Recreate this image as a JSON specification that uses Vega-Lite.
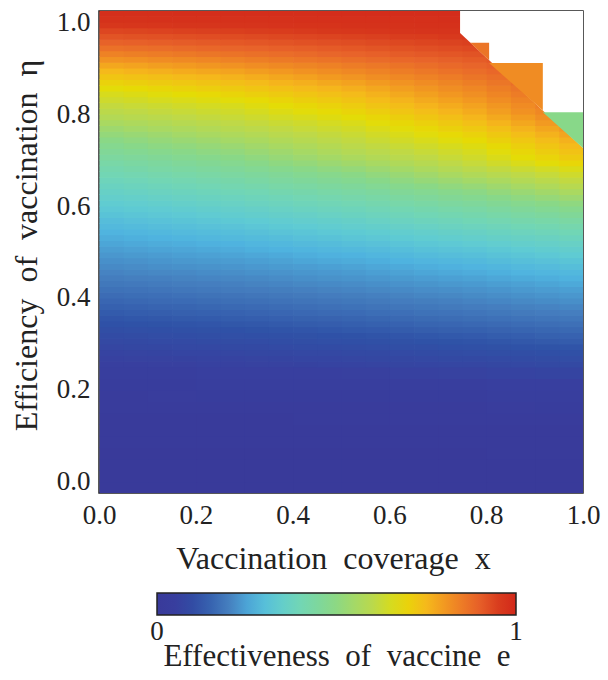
{
"$schema":"https://vega.github.io/schema/vega-lite/v6.json",
"width":484,"height":482,
"autosize":{"type":"none"},
"padding":{"left":99,"top":11,"right":25,"bottom":187},
"background":"white",
"config":{
 "view":{"stroke":"#222","strokeWidth":1.5},
 "font":"Liberation Serif",
 "axis":{"ticks":false,"tickSize":0,"domain":false,"grid":false,"labelFont":"Liberation Serif","labelFontSize":27,"labelColor":"#222","titleFont":"Liberation Serif","titleFontSize":32,"titleFontWeight":"normal","titleColor":"#222","labelOverlap":false}
},
"datasets":{
"coarse":[
{"x":0,"y":-0.025,"e":0},{"x":0.1,"y":-0.025,"e":0},{"x":0.2,"y":-0.025,"e":0},{"x":0.3,"y":-0.025,"e":0},{"x":0.4,"y":-0.025,"e":0},{"x":0.5,"y":-0.025,"e":0},{"x":0.6,"y":-0.025,"e":0},{"x":0.7,"y":-0.025,"e":0},{"x":0.8,"y":-0.025,"e":0},{"x":0.9,"y":-0.025,"e":0},
{"x":0,"y":0,"e":0.001},{"x":0.1,"y":0,"e":0.001},{"x":0.2,"y":0,"e":0.001},{"x":0.3,"y":0,"e":0.001},{"x":0.4,"y":0,"e":0.001},{"x":0.5,"y":0,"e":0.001},{"x":0.6,"y":0,"e":0.001},{"x":0.7,"y":0,"e":0.001},{"x":0.8,"y":0,"e":0.001},{"x":0.9,"y":0,"e":0.001},
{"x":0,"y":0.025,"e":0.002},{"x":0.1,"y":0.025,"e":0.002},{"x":0.2,"y":0.025,"e":0.002},{"x":0.3,"y":0.025,"e":0.002},{"x":0.4,"y":0.025,"e":0.002},{"x":0.5,"y":0.025,"e":0.002},{"x":0.6,"y":0.025,"e":0.002},{"x":0.7,"y":0.025,"e":0.002},{"x":0.8,"y":0.025,"e":0.002},{"x":0.9,"y":0.025,"e":0.002},
{"x":0,"y":0.05,"e":0.004},{"x":0.1,"y":0.05,"e":0.004},{"x":0.2,"y":0.05,"e":0.004},{"x":0.3,"y":0.05,"e":0.005},{"x":0.4,"y":0.05,"e":0.005},{"x":0.5,"y":0.05,"e":0.005},{"x":0.6,"y":0.05,"e":0.005},{"x":0.7,"y":0.05,"e":0.005},{"x":0.8,"y":0.05,"e":0.006},{"x":0.9,"y":0.05,"e":0.006},
{"x":0,"y":0.075,"e":0.007},{"x":0.1,"y":0.075,"e":0.007},{"x":0.2,"y":0.075,"e":0.008},{"x":0.3,"y":0.075,"e":0.008},{"x":0.4,"y":0.075,"e":0.008},{"x":0.5,"y":0.075,"e":0.008},{"x":0.6,"y":0.075,"e":0.009},{"x":0.7,"y":0.075,"e":0.009},{"x":0.8,"y":0.075,"e":0.009},{"x":0.9,"y":0.075,"e":0.01},
{"x":0,"y":0.1,"e":0.011},{"x":0.1,"y":0.1,"e":0.012},{"x":0.2,"y":0.1,"e":0.012},{"x":0.3,"y":0.1,"e":0.013},{"x":0.4,"y":0.1,"e":0.013},{"x":0.5,"y":0.1,"e":0.014},{"x":0.6,"y":0.1,"e":0.014},{"x":0.7,"y":0.1,"e":0.015},{"x":0.8,"y":0.1,"e":0.015},{"x":0.9,"y":0.1,"e":0.016},
{"x":0,"y":0.125,"e":0.016},{"x":0.1,"y":0.125,"e":0.016},{"x":0.2,"y":0.125,"e":0.017},{"x":0.3,"y":0.125,"e":0.017},{"x":0.4,"y":0.125,"e":0.018},{"x":0.5,"y":0.125,"e":0.019},{"x":0.6,"y":0.125,"e":0.02},{"x":0.7,"y":0.125,"e":0.021},{"x":0.8,"y":0.125,"e":0.022},{"x":0.9,"y":0.125,"e":0.023},
{"x":0,"y":0.15,"e":0.022},{"x":0.1,"y":0.15,"e":0.023},{"x":0.2,"y":0.15,"e":0.024},{"x":0.3,"y":0.15,"e":0.025},{"x":0.4,"y":0.15,"e":0.026},{"x":0.5,"y":0.15,"e":0.027},{"x":0.6,"y":0.15,"e":0.028},{"x":0.7,"y":0.15,"e":0.029},{"x":0.8,"y":0.15,"e":0.03},{"x":0.9,"y":0.15,"e":0.031},
{"x":0,"y":0.175,"e":0.029},{"x":0.1,"y":0.175,"e":0.03},{"x":0.2,"y":0.175,"e":0.031},{"x":0.3,"y":0.175,"e":0.032},{"x":0.4,"y":0.175,"e":0.034},{"x":0.5,"y":0.175,"e":0.036},{"x":0.6,"y":0.175,"e":0.038},{"x":0.7,"y":0.175,"e":0.04},{"x":0.8,"y":0.175,"e":0.042},{"x":0.9,"y":0.175,"e":0.045},
{"x":0,"y":0.2,"e":0.039},{"x":0.1,"y":0.2,"e":0.04},{"x":0.2,"y":0.2,"e":0.042},{"x":0.3,"y":0.2,"e":0.044},{"x":0.4,"y":0.2,"e":0.046},{"x":0.5,"y":0.2,"e":0.048},{"x":0.6,"y":0.2,"e":0.051},{"x":0.7,"y":0.2,"e":0.053},{"x":0.8,"y":0.2,"e":0.056},{"x":0.9,"y":0.2,"e":0.059},
{"x":0,"y":0.225,"e":0.05},{"x":0.1,"y":0.225,"e":0.052},{"x":0.2,"y":0.225,"e":0.054},{"x":0.3,"y":0.225,"e":0.057},{"x":0.4,"y":0.225,"e":0.06},{"x":0.5,"y":0.225,"e":0.063},{"x":0.6,"y":0.225,"e":0.066},{"x":0.7,"y":0.225,"e":0.07},{"x":0.8,"y":0.225,"e":0.073},{"x":0.9,"y":0.225,"e":0.077}
],
"fine":[
{"x":0,"y":0.25,"e":0.059},{"x":0.05,"y":0.25,"e":0.06},{"x":0.1,"y":0.25,"e":0.062},{"x":0.15,"y":0.25,"e":0.063},{"x":0.2,"y":0.25,"e":0.065},{"x":0.25,"y":0.25,"e":0.066},{"x":0.3,"y":0.25,"e":0.068},{"x":0.35,"y":0.25,"e":0.069},{"x":0.4,"y":0.25,"e":0.071},{"x":0.45,"y":0.25,"e":0.072},{"x":0.5,"y":0.25,"e":0.074},{"x":0.55,"y":0.25,"e":0.076},{"x":0.6,"y":0.25,"e":0.078},{"x":0.65,"y":0.25,"e":0.079},{"x":0.7,"y":0.25,"e":0.081},{"x":0.75,"y":0.25,"e":0.083},{"x":0.8,"y":0.25,"e":0.086},{"x":0.85,"y":0.25,"e":0.088},{"x":0.9,"y":0.25,"e":0.091},{"x":0.95,"y":0.25,"e":0.093},
{"x":0,"y":0.2625,"e":0.067},{"x":0.05,"y":0.2625,"e":0.068},{"x":0.1,"y":0.2625,"e":0.07},{"x":0.15,"y":0.2625,"e":0.071},{"x":0.2,"y":0.2625,"e":0.073},{"x":0.25,"y":0.2625,"e":0.074},{"x":0.3,"y":0.2625,"e":0.076},{"x":0.35,"y":0.2625,"e":0.077},{"x":0.4,"y":0.2625,"e":0.079},{"x":0.45,"y":0.2625,"e":0.08},{"x":0.5,"y":0.2625,"e":0.082},{"x":0.55,"y":0.2625,"e":0.084},{"x":0.6,"y":0.2625,"e":0.086},{"x":0.65,"y":0.2625,"e":0.089},{"x":0.7,"y":0.2625,"e":0.091},{"x":0.75,"y":0.2625,"e":0.093},{"x":0.8,"y":0.2625,"e":0.096},{"x":0.85,"y":0.2625,"e":0.098},{"x":0.9,"y":0.2625,"e":0.101},{"x":0.95,"y":0.2625,"e":0.103},
{"x":0,"y":0.275,"e":0.074},{"x":0.05,"y":0.275,"e":0.076},{"x":0.1,"y":0.275,"e":0.077},{"x":0.15,"y":0.275,"e":0.079},{"x":0.2,"y":0.275,"e":0.08},{"x":0.25,"y":0.275,"e":0.082},{"x":0.3,"y":0.275,"e":0.084},{"x":0.35,"y":0.275,"e":0.086},{"x":0.4,"y":0.275,"e":0.087},{"x":0.45,"y":0.275,"e":0.089},{"x":0.5,"y":0.275,"e":0.091},{"x":0.55,"y":0.275,"e":0.093},{"x":0.6,"y":0.275,"e":0.096},{"x":0.65,"y":0.275,"e":0.098},{"x":0.7,"y":0.275,"e":0.101},{"x":0.75,"y":0.275,"e":0.103},{"x":0.8,"y":0.275,"e":0.106},{"x":0.85,"y":0.275,"e":0.108},{"x":0.9,"y":0.275,"e":0.111},{"x":0.95,"y":0.275,"e":0.113},
{"x":0,"y":0.2875,"e":0.082},{"x":0.05,"y":0.2875,"e":0.084},{"x":0.1,"y":0.2875,"e":0.085},{"x":0.15,"y":0.2875,"e":0.087},{"x":0.2,"y":0.2875,"e":0.089},{"x":0.25,"y":0.2875,"e":0.091},{"x":0.3,"y":0.2875,"e":0.093},{"x":0.35,"y":0.2875,"e":0.095},{"x":0.4,"y":0.2875,"e":0.097},{"x":0.45,"y":0.2875,"e":0.099},{"x":0.5,"y":0.2875,"e":0.101},{"x":0.55,"y":0.2875,"e":0.103},{"x":0.6,"y":0.2875,"e":0.106},{"x":0.65,"y":0.2875,"e":0.108},{"x":0.7,"y":0.2875,"e":0.111},{"x":0.75,"y":0.2875,"e":0.113},{"x":0.8,"y":0.2875,"e":0.116},{"x":0.85,"y":0.2875,"e":0.119},{"x":0.9,"y":0.2875,"e":0.121},{"x":0.95,"y":0.2875,"e":0.124},
{"x":0,"y":0.3,"e":0.09},{"x":0.05,"y":0.3,"e":0.092},{"x":0.1,"y":0.3,"e":0.094},{"x":0.15,"y":0.3,"e":0.096},{"x":0.2,"y":0.3,"e":0.098},{"x":0.25,"y":0.3,"e":0.1},{"x":0.3,"y":0.3,"e":0.102},{"x":0.35,"y":0.3,"e":0.104},{"x":0.4,"y":0.3,"e":0.107},{"x":0.45,"y":0.3,"e":0.109},{"x":0.5,"y":0.3,"e":0.111},{"x":0.55,"y":0.3,"e":0.114},{"x":0.6,"y":0.3,"e":0.116},{"x":0.65,"y":0.3,"e":0.119},{"x":0.7,"y":0.3,"e":0.121},{"x":0.75,"y":0.3,"e":0.124},{"x":0.8,"y":0.3,"e":0.127},{"x":0.85,"y":0.3,"e":0.13},{"x":0.9,"y":0.3,"e":0.134},{"x":0.95,"y":0.3,"e":0.137},
{"x":0,"y":0.3125,"e":0.099},{"x":0.05,"y":0.3125,"e":0.101},{"x":0.1,"y":0.3125,"e":0.103},{"x":0.15,"y":0.3125,"e":0.105},{"x":0.2,"y":0.3125,"e":0.107},{"x":0.25,"y":0.3125,"e":0.109},{"x":0.3,"y":0.3125,"e":0.111},{"x":0.35,"y":0.3125,"e":0.113},{"x":0.4,"y":0.3125,"e":0.116},{"x":0.45,"y":0.3125,"e":0.118},{"x":0.5,"y":0.3125,"e":0.12},{"x":0.55,"y":0.3125,"e":0.123},{"x":0.6,"y":0.3125,"e":0.126},{"x":0.65,"y":0.3125,"e":0.129},{"x":0.7,"y":0.3125,"e":0.132},{"x":0.75,"y":0.3125,"e":0.135},{"x":0.8,"y":0.3125,"e":0.139},{"x":0.85,"y":0.3125,"e":0.142},{"x":0.9,"y":0.3125,"e":0.146},{"x":0.95,"y":0.3125,"e":0.149},
{"x":0,"y":0.325,"e":0.108},{"x":0.05,"y":0.325,"e":0.11},{"x":0.1,"y":0.325,"e":0.112},{"x":0.15,"y":0.325,"e":0.114},{"x":0.2,"y":0.325,"e":0.116},{"x":0.25,"y":0.325,"e":0.118},{"x":0.3,"y":0.325,"e":0.121},{"x":0.35,"y":0.325,"e":0.124},{"x":0.4,"y":0.325,"e":0.126},{"x":0.45,"y":0.325,"e":0.129},{"x":0.5,"y":0.325,"e":0.132},{"x":0.55,"y":0.325,"e":0.135},{"x":0.6,"y":0.325,"e":0.138},{"x":0.65,"y":0.325,"e":0.141},{"x":0.7,"y":0.325,"e":0.144},{"x":0.75,"y":0.325,"e":0.147},{"x":0.8,"y":0.325,"e":0.151},{"x":0.85,"y":0.325,"e":0.154},{"x":0.9,"y":0.325,"e":0.158},{"x":0.95,"y":0.325,"e":0.161},
{"x":0,"y":0.3375,"e":0.117},{"x":0.05,"y":0.3375,"e":0.119},{"x":0.1,"y":0.3375,"e":0.121},{"x":0.15,"y":0.3375,"e":0.124},{"x":0.2,"y":0.3375,"e":0.126},{"x":0.25,"y":0.3375,"e":0.128},{"x":0.3,"y":0.3375,"e":0.131},{"x":0.35,"y":0.3375,"e":0.134},{"x":0.4,"y":0.3375,"e":0.137},{"x":0.45,"y":0.3375,"e":0.14},{"x":0.5,"y":0.3375,"e":0.143},{"x":0.55,"y":0.3375,"e":0.146},{"x":0.6,"y":0.3375,"e":0.149},{"x":0.65,"y":0.3375,"e":0.153},{"x":0.7,"y":0.3375,"e":0.156},{"x":0.75,"y":0.3375,"e":0.159},{"x":0.8,"y":0.3375,"e":0.163},{"x":0.85,"y":0.3375,"e":0.167},{"x":0.9,"y":0.3375,"e":0.17},{"x":0.95,"y":0.3375,"e":0.174},
{"x":0,"y":0.35,"e":0.126},{"x":0.05,"y":0.35,"e":0.129},{"x":0.1,"y":0.35,"e":0.131},{"x":0.15,"y":0.35,"e":0.134},{"x":0.2,"y":0.35,"e":0.136},{"x":0.25,"y":0.35,"e":0.139},{"x":0.3,"y":0.35,"e":0.142},{"x":0.35,"y":0.35,"e":0.145},{"x":0.4,"y":0.35,"e":0.148},{"x":0.45,"y":0.35,"e":0.151},{"x":0.5,"y":0.35,"e":0.154},{"x":0.55,"y":0.35,"e":0.157},{"x":0.6,"y":0.35,"e":0.161},{"x":0.65,"y":0.35,"e":0.164},{"x":0.7,"y":0.35,"e":0.168},{"x":0.75,"y":0.35,"e":0.171},{"x":0.8,"y":0.35,"e":0.175},{"x":0.85,"y":0.35,"e":0.179},{"x":0.9,"y":0.35,"e":0.182},{"x":0.95,"y":0.35,"e":0.186},
{"x":0,"y":0.3625,"e":0.136},{"x":0.05,"y":0.3625,"e":0.139},{"x":0.1,"y":0.3625,"e":0.141},{"x":0.15,"y":0.3625,"e":0.144},{"x":0.2,"y":0.3625,"e":0.146},{"x":0.25,"y":0.3625,"e":0.149},{"x":0.3,"y":0.3625,"e":0.152},{"x":0.35,"y":0.3625,"e":0.155},{"x":0.4,"y":0.3625,"e":0.159},{"x":0.45,"y":0.3625,"e":0.162},{"x":0.5,"y":0.3625,"e":0.165},{"x":0.55,"y":0.3625,"e":0.169},{"x":0.6,"y":0.3625,"e":0.172},{"x":0.65,"y":0.3625,"e":0.176},{"x":0.7,"y":0.3625,"e":0.179},{"x":0.75,"y":0.3625,"e":0.183},{"x":0.8,"y":0.3625,"e":0.187},{"x":0.85,"y":0.3625,"e":0.191},{"x":0.9,"y":0.3625,"e":0.195},{"x":0.95,"y":0.3625,"e":0.199},
{"x":0,"y":0.375,"e":0.146},{"x":0.05,"y":0.375,"e":0.149},{"x":0.1,"y":0.375,"e":0.152},{"x":0.15,"y":0.375,"e":0.154},{"x":0.2,"y":0.375,"e":0.157},{"x":0.25,"y":0.375,"e":0.16},{"x":0.3,"y":0.375,"e":0.163},{"x":0.35,"y":0.375,"e":0.166},{"x":0.4,"y":0.375,"e":0.17},{"x":0.45,"y":0.375,"e":0.173},{"x":0.5,"y":0.375,"e":0.176},{"x":0.55,"y":0.375,"e":0.18},{"x":0.6,"y":0.375,"e":0.184},{"x":0.65,"y":0.375,"e":0.187},{"x":0.7,"y":0.375,"e":0.191},{"x":0.75,"y":0.375,"e":0.195},{"x":0.8,"y":0.375,"e":0.199},{"x":0.85,"y":0.375,"e":0.203},{"x":0.9,"y":0.375,"e":0.206},{"x":0.95,"y":0.375,"e":0.21},
{"x":0,"y":0.3875,"e":0.156},{"x":0.05,"y":0.3875,"e":0.159},{"x":0.1,"y":0.3875,"e":0.162},{"x":0.15,"y":0.3875,"e":0.165},{"x":0.2,"y":0.3875,"e":0.168},{"x":0.25,"y":0.3875,"e":0.171},{"x":0.3,"y":0.3875,"e":0.174},{"x":0.35,"y":0.3875,"e":0.177},{"x":0.4,"y":0.3875,"e":0.181},{"x":0.45,"y":0.3875,"e":0.184},{"x":0.5,"y":0.3875,"e":0.187},{"x":0.55,"y":0.3875,"e":0.191},{"x":0.6,"y":0.3875,"e":0.195},{"x":0.65,"y":0.3875,"e":0.198},{"x":0.7,"y":0.3875,"e":0.202},{"x":0.75,"y":0.3875,"e":0.206},{"x":0.8,"y":0.3875,"e":0.21},{"x":0.85,"y":0.3875,"e":0.214},{"x":0.9,"y":0.3875,"e":0.217},{"x":0.95,"y":0.3875,"e":0.221},
{"x":0,"y":0.4,"e":0.166},{"x":0.05,"y":0.4,"e":0.169},{"x":0.1,"y":0.4,"e":0.172},{"x":0.15,"y":0.4,"e":0.175},{"x":0.2,"y":0.4,"e":0.178},{"x":0.25,"y":0.4,"e":0.181},{"x":0.3,"y":0.4,"e":0.184},{"x":0.35,"y":0.4,"e":0.188},{"x":0.4,"y":0.4,"e":0.191},{"x":0.45,"y":0.4,"e":0.195},{"x":0.5,"y":0.4,"e":0.198},{"x":0.55,"y":0.4,"e":0.202},{"x":0.6,"y":0.4,"e":0.205},{"x":0.65,"y":0.4,"e":0.209},{"x":0.7,"y":0.4,"e":0.212},{"x":0.75,"y":0.4,"e":0.216},{"x":0.8,"y":0.4,"e":0.22},{"x":0.85,"y":0.4,"e":0.224},{"x":0.9,"y":0.4,"e":0.228},{"x":0.95,"y":0.4,"e":0.232},
{"x":0,"y":0.4125,"e":0.176},{"x":0.05,"y":0.4125,"e":0.179},{"x":0.1,"y":0.4125,"e":0.182},{"x":0.15,"y":0.4125,"e":0.186},{"x":0.2,"y":0.4125,"e":0.189},{"x":0.25,"y":0.4125,"e":0.192},{"x":0.3,"y":0.4125,"e":0.195},{"x":0.35,"y":0.4125,"e":0.198},{"x":0.4,"y":0.4125,"e":0.202},{"x":0.45,"y":0.4125,"e":0.205},{"x":0.5,"y":0.4125,"e":0.208},{"x":0.55,"y":0.4125,"e":0.212},{"x":0.6,"y":0.4125,"e":0.215},{"x":0.65,"y":0.4125,"e":0.219},{"x":0.7,"y":0.4125,"e":0.222},{"x":0.75,"y":0.4125,"e":0.226},{"x":0.8,"y":0.4125,"e":0.23},{"x":0.85,"y":0.4125,"e":0.235},{"x":0.9,"y":0.4125,"e":0.239},{"x":0.95,"y":0.4125,"e":0.243},
{"x":0,"y":0.425,"e":0.187},{"x":0.05,"y":0.425,"e":0.19},{"x":0.1,"y":0.425,"e":0.193},{"x":0.15,"y":0.425,"e":0.196},{"x":0.2,"y":0.425,"e":0.199},{"x":0.25,"y":0.425,"e":0.202},{"x":0.3,"y":0.425,"e":0.205},{"x":0.35,"y":0.425,"e":0.208},{"x":0.4,"y":0.425,"e":0.212},{"x":0.45,"y":0.425,"e":0.215},{"x":0.5,"y":0.425,"e":0.218},{"x":0.55,"y":0.425,"e":0.222},{"x":0.6,"y":0.425,"e":0.226},{"x":0.65,"y":0.425,"e":0.229},{"x":0.7,"y":0.425,"e":0.233},{"x":0.75,"y":0.425,"e":0.237},{"x":0.8,"y":0.425,"e":0.242},{"x":0.85,"y":0.425,"e":0.246},{"x":0.9,"y":0.425,"e":0.251},{"x":0.95,"y":0.425,"e":0.256},
{"x":0,"y":0.4375,"e":0.197},{"x":0.05,"y":0.4375,"e":0.2},{"x":0.1,"y":0.4375,"e":0.202},{"x":0.15,"y":0.4375,"e":0.205},{"x":0.2,"y":0.4375,"e":0.208},{"x":0.25,"y":0.4375,"e":0.211},{"x":0.3,"y":0.4375,"e":0.214},{"x":0.35,"y":0.4375,"e":0.218},{"x":0.4,"y":0.4375,"e":0.221},{"x":0.45,"y":0.4375,"e":0.225},{"x":0.5,"y":0.4375,"e":0.228},{"x":0.55,"y":0.4375,"e":0.232},{"x":0.6,"y":0.4375,"e":0.236},{"x":0.65,"y":0.4375,"e":0.241},{"x":0.7,"y":0.4375,"e":0.245},{"x":0.75,"y":0.4375,"e":0.249},{"x":0.8,"y":0.4375,"e":0.254},{"x":0.85,"y":0.4375,"e":0.259},{"x":0.9,"y":0.4375,"e":0.263},{"x":0.95,"y":0.4375,"e":0.268},
{"x":0,"y":0.45,"e":0.206},{"x":0.05,"y":0.45,"e":0.209},{"x":0.1,"y":0.45,"e":0.212},{"x":0.15,"y":0.45,"e":0.214},{"x":0.2,"y":0.45,"e":0.217},{"x":0.25,"y":0.45,"e":0.22},{"x":0.3,"y":0.45,"e":0.224},{"x":0.35,"y":0.45,"e":0.227},{"x":0.4,"y":0.45,"e":0.231},{"x":0.45,"y":0.45,"e":0.234},{"x":0.5,"y":0.45,"e":0.238},{"x":0.55,"y":0.45,"e":0.243},{"x":0.6,"y":0.45,"e":0.247},{"x":0.65,"y":0.45,"e":0.252},{"x":0.7,"y":0.45,"e":0.256},{"x":0.75,"y":0.45,"e":0.261},{"x":0.8,"y":0.45,"e":0.266},{"x":0.85,"y":0.45,"e":0.272},{"x":0.9,"y":0.45,"e":0.277},{"x":0.95,"y":0.45,"e":0.282},
{"x":0,"y":0.4625,"e":0.215},{"x":0.05,"y":0.4625,"e":0.218},{"x":0.1,"y":0.4625,"e":0.221},{"x":0.15,"y":0.4625,"e":0.224},{"x":0.2,"y":0.4625,"e":0.227},{"x":0.25,"y":0.4625,"e":0.23},{"x":0.3,"y":0.4625,"e":0.234},{"x":0.35,"y":0.4625,"e":0.238},{"x":0.4,"y":0.4625,"e":0.241},{"x":0.45,"y":0.4625,"e":0.245},{"x":0.5,"y":0.4625,"e":0.249},{"x":0.55,"y":0.4625,"e":0.254},{"x":0.6,"y":0.4625,"e":0.258},{"x":0.65,"y":0.4625,"e":0.263},{"x":0.7,"y":0.4625,"e":0.267},{"x":0.75,"y":0.4625,"e":0.272},{"x":0.8,"y":0.4625,"e":0.278},{"x":0.85,"y":0.4625,"e":0.285},{"x":0.9,"y":0.4625,"e":0.291},{"x":0.95,"y":0.4625,"e":0.298},
{"x":0,"y":0.475,"e":0.223},{"x":0.05,"y":0.475,"e":0.226},{"x":0.1,"y":0.475,"e":0.23},{"x":0.15,"y":0.475,"e":0.233},{"x":0.2,"y":0.475,"e":0.236},{"x":0.25,"y":0.475,"e":0.239},{"x":0.3,"y":0.475,"e":0.243},{"x":0.35,"y":0.475,"e":0.247},{"x":0.4,"y":0.475,"e":0.252},{"x":0.45,"y":0.475,"e":0.256},{"x":0.5,"y":0.475,"e":0.26},{"x":0.55,"y":0.475,"e":0.265},{"x":0.6,"y":0.475,"e":0.27},{"x":0.65,"y":0.475,"e":0.276},{"x":0.7,"y":0.475,"e":0.281},{"x":0.75,"y":0.475,"e":0.286},{"x":0.8,"y":0.475,"e":0.293},{"x":0.85,"y":0.475,"e":0.3},{"x":0.9,"y":0.475,"e":0.306},{"x":0.95,"y":0.475,"e":0.313},
{"x":0,"y":0.4875,"e":0.232},{"x":0.05,"y":0.4875,"e":0.236},{"x":0.1,"y":0.4875,"e":0.239},{"x":0.15,"y":0.4875,"e":0.243},{"x":0.2,"y":0.4875,"e":0.246},{"x":0.25,"y":0.4875,"e":0.25},{"x":0.3,"y":0.4875,"e":0.254},{"x":0.35,"y":0.4875,"e":0.258},{"x":0.4,"y":0.4875,"e":0.263},{"x":0.45,"y":0.4875,"e":0.267},{"x":0.5,"y":0.4875,"e":0.271},{"x":0.55,"y":0.4875,"e":0.277},{"x":0.6,"y":0.4875,"e":0.283},{"x":0.65,"y":0.4875,"e":0.289},{"x":0.7,"y":0.4875,"e":0.295},{"x":0.75,"y":0.4875,"e":0.301},{"x":0.8,"y":0.4875,"e":0.308},{"x":0.85,"y":0.4875,"e":0.315},{"x":0.9,"y":0.4875,"e":0.322},{"x":0.95,"y":0.4875,"e":0.329},
{"x":0,"y":0.5,"e":0.242},{"x":0.05,"y":0.5,"e":0.246},{"x":0.1,"y":0.5,"e":0.25},{"x":0.15,"y":0.5,"e":0.253},{"x":0.2,"y":0.5,"e":0.257},{"x":0.25,"y":0.5,"e":0.261},{"x":0.3,"y":0.5,"e":0.266},{"x":0.35,"y":0.5,"e":0.271},{"x":0.4,"y":0.5,"e":0.275},{"x":0.45,"y":0.5,"e":0.28},{"x":0.5,"y":0.5,"e":0.285},{"x":0.55,"y":0.5,"e":0.291},{"x":0.6,"y":0.5,"e":0.297},{"x":0.65,"y":0.5,"e":0.304},{"x":0.7,"y":0.5,"e":0.31},{"x":0.75,"y":0.5,"e":0.316},{"x":0.8,"y":0.5,"e":0.323},{"x":0.85,"y":0.5,"e":0.331},{"x":0.9,"y":0.5,"e":0.338},{"x":0.95,"y":0.5,"e":0.345},
{"x":0,"y":0.5125,"e":0.252},{"x":0.05,"y":0.5125,"e":0.256},{"x":0.1,"y":0.5125,"e":0.26},{"x":0.15,"y":0.5125,"e":0.263},{"x":0.2,"y":0.5125,"e":0.267},{"x":0.25,"y":0.5125,"e":0.271},{"x":0.3,"y":0.5125,"e":0.277},{"x":0.35,"y":0.5125,"e":0.282},{"x":0.4,"y":0.5125,"e":0.288},{"x":0.45,"y":0.5125,"e":0.293},{"x":0.5,"y":0.5125,"e":0.299},{"x":0.55,"y":0.5125,"e":0.306},{"x":0.6,"y":0.5125,"e":0.312},{"x":0.65,"y":0.5125,"e":0.319},{"x":0.7,"y":0.5125,"e":0.325},{"x":0.75,"y":0.5125,"e":0.332},{"x":0.8,"y":0.5125,"e":0.34},{"x":0.85,"y":0.5125,"e":0.347},{"x":0.9,"y":0.5125,"e":0.355},{"x":0.95,"y":0.5125,"e":0.362},
{"x":0,"y":0.525,"e":0.262},{"x":0.05,"y":0.525,"e":0.266},{"x":0.1,"y":0.525,"e":0.271},{"x":0.15,"y":0.525,"e":0.275},{"x":0.2,"y":0.525,"e":0.28},{"x":0.25,"y":0.525,"e":0.284},{"x":0.3,"y":0.525,"e":0.29},{"x":0.35,"y":0.525,"e":0.296},{"x":0.4,"y":0.525,"e":0.302},{"x":0.45,"y":0.525,"e":0.308},{"x":0.5,"y":0.525,"e":0.314},{"x":0.55,"y":0.525,"e":0.321},{"x":0.6,"y":0.525,"e":0.328},{"x":0.65,"y":0.525,"e":0.334},{"x":0.7,"y":0.525,"e":0.341},{"x":0.75,"y":0.525,"e":0.348},{"x":0.8,"y":0.525,"e":0.356},{"x":0.85,"y":0.525,"e":0.364},{"x":0.9,"y":0.525,"e":0.371},{"x":0.95,"y":0.525,"e":0.379},
{"x":0,"y":0.5375,"e":0.272},{"x":0.05,"y":0.5375,"e":0.277},{"x":0.1,"y":0.5375,"e":0.282},{"x":0.15,"y":0.5375,"e":0.287},{"x":0.2,"y":0.5375,"e":0.292},{"x":0.25,"y":0.5375,"e":0.297},{"x":0.3,"y":0.5375,"e":0.303},{"x":0.35,"y":0.5375,"e":0.31},{"x":0.4,"y":0.5375,"e":0.316},{"x":0.45,"y":0.5375,"e":0.322},{"x":0.5,"y":0.5375,"e":0.328},{"x":0.55,"y":0.5375,"e":0.335},{"x":0.6,"y":0.5375,"e":0.342},{"x":0.65,"y":0.5375,"e":0.349},{"x":0.7,"y":0.5375,"e":0.356},{"x":0.75,"y":0.5375,"e":0.363},{"x":0.8,"y":0.5375,"e":0.372},{"x":0.85,"y":0.5375,"e":0.38},{"x":0.9,"y":0.5375,"e":0.389},{"x":0.95,"y":0.5375,"e":0.397},
{"x":0,"y":0.55,"e":0.284},{"x":0.05,"y":0.55,"e":0.289},{"x":0.1,"y":0.55,"e":0.295},{"x":0.15,"y":0.55,"e":0.3},{"x":0.2,"y":0.55,"e":0.306},{"x":0.25,"y":0.55,"e":0.311},{"x":0.3,"y":0.55,"e":0.317},{"x":0.35,"y":0.55,"e":0.324},{"x":0.4,"y":0.55,"e":0.33},{"x":0.45,"y":0.55,"e":0.337},{"x":0.5,"y":0.55,"e":0.343},{"x":0.55,"y":0.55,"e":0.35},{"x":0.6,"y":0.55,"e":0.358},{"x":0.65,"y":0.55,"e":0.365},{"x":0.7,"y":0.55,"e":0.373},{"x":0.75,"y":0.55,"e":0.38},{"x":0.8,"y":0.55,"e":0.389},{"x":0.85,"y":0.55,"e":0.398},{"x":0.9,"y":0.55,"e":0.406},{"x":0.95,"y":0.55,"e":0.415},
{"x":0,"y":0.5625,"e":0.296},{"x":0.05,"y":0.5625,"e":0.302},{"x":0.1,"y":0.5625,"e":0.307},{"x":0.15,"y":0.5625,"e":0.313},{"x":0.2,"y":0.5625,"e":0.318},{"x":0.25,"y":0.5625,"e":0.324},{"x":0.3,"y":0.5625,"e":0.331},{"x":0.35,"y":0.5625,"e":0.337},{"x":0.4,"y":0.5625,"e":0.344},{"x":0.45,"y":0.5625,"e":0.35},{"x":0.5,"y":0.5625,"e":0.357},{"x":0.55,"y":0.5625,"e":0.365},{"x":0.6,"y":0.5625,"e":0.373},{"x":0.65,"y":0.5625,"e":0.381},{"x":0.7,"y":0.5625,"e":0.389},{"x":0.75,"y":0.5625,"e":0.397},{"x":0.8,"y":0.5625,"e":0.407},{"x":0.85,"y":0.5625,"e":0.416},{"x":0.9,"y":0.5625,"e":0.426},{"x":0.95,"y":0.5625,"e":0.435},
{"x":0,"y":0.575,"e":0.309},{"x":0.05,"y":0.575,"e":0.315},{"x":0.1,"y":0.575,"e":0.321},{"x":0.15,"y":0.575,"e":0.326},{"x":0.2,"y":0.575,"e":0.332},{"x":0.25,"y":0.575,"e":0.338},{"x":0.3,"y":0.575,"e":0.345},{"x":0.35,"y":0.575,"e":0.352},{"x":0.4,"y":0.575,"e":0.358},{"x":0.45,"y":0.575,"e":0.365},{"x":0.5,"y":0.575,"e":0.372},{"x":0.55,"y":0.575,"e":0.38},{"x":0.6,"y":0.575,"e":0.389},{"x":0.65,"y":0.575,"e":0.397},{"x":0.7,"y":0.575,"e":0.406},{"x":0.75,"y":0.575,"e":0.414},{"x":0.8,"y":0.575,"e":0.425},{"x":0.85,"y":0.575,"e":0.436},{"x":0.9,"y":0.575,"e":0.447},{"x":0.95,"y":0.575,"e":0.458},
{"x":0,"y":0.5875,"e":0.322},{"x":0.05,"y":0.5875,"e":0.328},{"x":0.1,"y":0.5875,"e":0.333},{"x":0.15,"y":0.5875,"e":0.339},{"x":0.2,"y":0.5875,"e":0.345},{"x":0.25,"y":0.5875,"e":0.351},{"x":0.3,"y":0.5875,"e":0.358},{"x":0.35,"y":0.5875,"e":0.365},{"x":0.4,"y":0.5875,"e":0.373},{"x":0.45,"y":0.5875,"e":0.38},{"x":0.5,"y":0.5875,"e":0.387},{"x":0.55,"y":0.5875,"e":0.396},{"x":0.6,"y":0.5875,"e":0.405},{"x":0.65,"y":0.5875,"e":0.414},{"x":0.7,"y":0.5875,"e":0.423},{"x":0.75,"y":0.5875,"e":0.432},{"x":0.8,"y":0.5875,"e":0.445},{"x":0.85,"y":0.5875,"e":0.457},{"x":0.9,"y":0.5875,"e":0.47},{"x":0.95,"y":0.5875,"e":0.482},
{"x":0,"y":0.6,"e":0.334},{"x":0.05,"y":0.6,"e":0.34},{"x":0.1,"y":0.6,"e":0.346},{"x":0.15,"y":0.6,"e":0.353},{"x":0.2,"y":0.6,"e":0.359},{"x":0.25,"y":0.6,"e":0.365},{"x":0.3,"y":0.6,"e":0.373},{"x":0.35,"y":0.6,"e":0.38},{"x":0.4,"y":0.6,"e":0.388},{"x":0.45,"y":0.6,"e":0.395},{"x":0.5,"y":0.6,"e":0.403},{"x":0.55,"y":0.6,"e":0.413},{"x":0.6,"y":0.6,"e":0.423},{"x":0.65,"y":0.6,"e":0.433},{"x":0.7,"y":0.6,"e":0.443},{"x":0.75,"y":0.6,"e":0.453},{"x":0.8,"y":0.6,"e":0.466},{"x":0.85,"y":0.6,"e":0.48},{"x":0.9,"y":0.6,"e":0.493},{"x":0.95,"y":0.6,"e":0.506},
{"x":0,"y":0.6125,"e":0.347},{"x":0.05,"y":0.6125,"e":0.353},{"x":0.1,"y":0.6125,"e":0.359},{"x":0.15,"y":0.6125,"e":0.366},{"x":0.2,"y":0.6125,"e":0.372},{"x":0.25,"y":0.6125,"e":0.378},{"x":0.3,"y":0.6125,"e":0.386},{"x":0.35,"y":0.6125,"e":0.394},{"x":0.4,"y":0.6125,"e":0.403},{"x":0.45,"y":0.6125,"e":0.411},{"x":0.5,"y":0.6125,"e":0.419},{"x":0.55,"y":0.6125,"e":0.43},{"x":0.6,"y":0.6125,"e":0.441},{"x":0.65,"y":0.6125,"e":0.453},{"x":0.7,"y":0.6125,"e":0.464},{"x":0.75,"y":0.6125,"e":0.475},{"x":0.8,"y":0.6125,"e":0.49},{"x":0.85,"y":0.6125,"e":0.505},{"x":0.9,"y":0.6125,"e":0.52},{"x":0.95,"y":0.6125,"e":0.535},
{"x":0,"y":0.625,"e":0.359},{"x":0.05,"y":0.625,"e":0.366},{"x":0.1,"y":0.625,"e":0.373},{"x":0.15,"y":0.625,"e":0.379},{"x":0.2,"y":0.625,"e":0.386},{"x":0.25,"y":0.625,"e":0.393},{"x":0.3,"y":0.625,"e":0.401},{"x":0.35,"y":0.625,"e":0.41},{"x":0.4,"y":0.625,"e":0.418},{"x":0.45,"y":0.625,"e":0.427},{"x":0.5,"y":0.625,"e":0.435},{"x":0.55,"y":0.625,"e":0.447},{"x":0.6,"y":0.625,"e":0.46},{"x":0.65,"y":0.625,"e":0.472},{"x":0.7,"y":0.625,"e":0.484},{"x":0.75,"y":0.625,"e":0.496},{"x":0.8,"y":0.625,"e":0.513},{"x":0.85,"y":0.625,"e":0.53},{"x":0.9,"y":0.625,"e":0.547},{"x":0.95,"y":0.625,"e":0.564},
{"x":0,"y":0.6375,"e":0.372},{"x":0.05,"y":0.6375,"e":0.379},{"x":0.1,"y":0.6375,"e":0.386},{"x":0.15,"y":0.6375,"e":0.394},{"x":0.2,"y":0.6375,"e":0.401},{"x":0.25,"y":0.6375,"e":0.408},{"x":0.3,"y":0.6375,"e":0.417},{"x":0.35,"y":0.6375,"e":0.427},{"x":0.4,"y":0.6375,"e":0.436},{"x":0.45,"y":0.6375,"e":0.446},{"x":0.5,"y":0.6375,"e":0.455},{"x":0.55,"y":0.6375,"e":0.468},{"x":0.6,"y":0.6375,"e":0.482},{"x":0.65,"y":0.6375,"e":0.495},{"x":0.7,"y":0.6375,"e":0.509},{"x":0.75,"y":0.6375,"e":0.522},{"x":0.8,"y":0.6375,"e":0.54},{"x":0.85,"y":0.6375,"e":0.557},{"x":0.9,"y":0.6375,"e":0.575},{"x":0.95,"y":0.6375,"e":0.592},
{"x":0,"y":0.65,"e":0.385},{"x":0.05,"y":0.65,"e":0.392},{"x":0.1,"y":0.65,"e":0.4},{"x":0.15,"y":0.65,"e":0.407},{"x":0.2,"y":0.65,"e":0.415},{"x":0.25,"y":0.65,"e":0.422},{"x":0.3,"y":0.65,"e":0.433},{"x":0.35,"y":0.65,"e":0.443},{"x":0.4,"y":0.65,"e":0.454},{"x":0.45,"y":0.65,"e":0.464},{"x":0.5,"y":0.65,"e":0.475},{"x":0.55,"y":0.65,"e":0.49},{"x":0.6,"y":0.65,"e":0.505},{"x":0.65,"y":0.65,"e":0.52},{"x":0.7,"y":0.65,"e":0.535},{"x":0.75,"y":0.65,"e":0.55},{"x":0.8,"y":0.65,"e":0.566},{"x":0.85,"y":0.65,"e":0.583},{"x":0.9,"y":0.65,"e":0.599},{"x":0.95,"y":0.65,"e":0.615},
{"x":0,"y":0.6625,"e":0.399},{"x":0.05,"y":0.6625,"e":0.407},{"x":0.1,"y":0.6625,"e":0.415},{"x":0.15,"y":0.6625,"e":0.423},{"x":0.2,"y":0.6625,"e":0.431},{"x":0.25,"y":0.6625,"e":0.439},{"x":0.3,"y":0.6625,"e":0.45},{"x":0.35,"y":0.6625,"e":0.461},{"x":0.4,"y":0.6625,"e":0.473},{"x":0.45,"y":0.6625,"e":0.484},{"x":0.5,"y":0.6625,"e":0.495},{"x":0.55,"y":0.6625,"e":0.511},{"x":0.6,"y":0.6625,"e":0.528},{"x":0.65,"y":0.6625,"e":0.544},{"x":0.7,"y":0.6625,"e":0.561},{"x":0.75,"y":0.6625,"e":0.577},{"x":0.8,"y":0.6625,"e":0.592},{"x":0.85,"y":0.6625,"e":0.607},{"x":0.9,"y":0.6625,"e":0.622},{"x":0.95,"y":0.6625,"e":0.637},
{"x":0,"y":0.675,"e":0.413},{"x":0.05,"y":0.675,"e":0.422},{"x":0.1,"y":0.675,"e":0.431},{"x":0.15,"y":0.675,"e":0.439},{"x":0.2,"y":0.675,"e":0.448},{"x":0.25,"y":0.675,"e":0.457},{"x":0.3,"y":0.675,"e":0.469},{"x":0.35,"y":0.675,"e":0.482},{"x":0.4,"y":0.675,"e":0.494},{"x":0.45,"y":0.675,"e":0.507},{"x":0.5,"y":0.675,"e":0.519},{"x":0.55,"y":0.675,"e":0.535},{"x":0.6,"y":0.675,"e":0.552},{"x":0.65,"y":0.675,"e":0.568},{"x":0.7,"y":0.675,"e":0.585},{"x":0.75,"y":0.675,"e":0.601},{"x":0.8,"y":0.675,"e":0.616},{"x":0.85,"y":0.675,"e":0.631},{"x":0.9,"y":0.675,"e":0.645},{"x":0.95,"y":0.675,"e":0.66},
{"x":0,"y":0.6875,"e":0.427},{"x":0.05,"y":0.6875,"e":0.437},{"x":0.1,"y":0.6875,"e":0.447},{"x":0.15,"y":0.6875,"e":0.456},{"x":0.2,"y":0.6875,"e":0.466},{"x":0.25,"y":0.6875,"e":0.476},{"x":0.3,"y":0.6875,"e":0.49},{"x":0.35,"y":0.6875,"e":0.504},{"x":0.4,"y":0.6875,"e":0.517},{"x":0.45,"y":0.6875,"e":0.531},{"x":0.5,"y":0.6875,"e":0.545},{"x":0.55,"y":0.6875,"e":0.56},{"x":0.6,"y":0.6875,"e":0.576},{"x":0.65,"y":0.6875,"e":0.591},{"x":0.7,"y":0.6875,"e":0.607},{"x":0.75,"y":0.6875,"e":0.622},{"x":0.8,"y":0.6875,"e":0.64},{"x":0.85,"y":0.6875,"e":0.657},{"x":0.9,"y":0.6875,"e":0.675},{"x":0.95,"y":0.6875,"e":0.692},
{"x":0,"y":0.7,"e":0.443},{"x":0.05,"y":0.7,"e":0.453},{"x":0.1,"y":0.7,"e":0.463},{"x":0.15,"y":0.7,"e":0.473},{"x":0.2,"y":0.7,"e":0.483},{"x":0.25,"y":0.7,"e":0.493},{"x":0.3,"y":0.7,"e":0.508},{"x":0.35,"y":0.7,"e":0.523},{"x":0.4,"y":0.7,"e":0.537},{"x":0.45,"y":0.7,"e":0.552},{"x":0.5,"y":0.7,"e":0.567},{"x":0.55,"y":0.7,"e":0.581},{"x":0.6,"y":0.7,"e":0.596},{"x":0.65,"y":0.7,"e":0.61},{"x":0.7,"y":0.7,"e":0.625},{"x":0.75,"y":0.7,"e":0.639},{"x":0.8,"y":0.7,"e":0.658},{"x":0.85,"y":0.7,"e":0.678},{"x":0.9,"y":0.7,"e":0.697},{"x":0.95,"y":0.7,"e":0.716},
{"x":0,"y":0.7125,"e":0.461},{"x":0.05,"y":0.7125,"e":0.471},{"x":0.1,"y":0.7125,"e":0.481},{"x":0.15,"y":0.7125,"e":0.492},{"x":0.2,"y":0.7125,"e":0.502},{"x":0.25,"y":0.7125,"e":0.512},{"x":0.3,"y":0.7125,"e":0.527},{"x":0.35,"y":0.7125,"e":0.541},{"x":0.4,"y":0.7125,"e":0.556},{"x":0.45,"y":0.7125,"e":0.57},{"x":0.5,"y":0.7125,"e":0.585},{"x":0.55,"y":0.7125,"e":0.598},{"x":0.6,"y":0.7125,"e":0.612},{"x":0.65,"y":0.7125,"e":0.625},{"x":0.7,"y":0.7125,"e":0.639},{"x":0.75,"y":0.7125,"e":0.652},{"x":0.8,"y":0.7125,"e":0.672},{"x":0.85,"y":0.7125,"e":0.692},{"x":0.9,"y":0.7125,"e":0.712},{"x":0.95,"y":0.7125,"e":0.732},
{"x":0,"y":0.725,"e":0.478},{"x":0.05,"y":0.725,"e":0.489},{"x":0.1,"y":0.725,"e":0.5},{"x":0.15,"y":0.725,"e":0.51},{"x":0.2,"y":0.725,"e":0.521},{"x":0.25,"y":0.725,"e":0.532},{"x":0.3,"y":0.725,"e":0.546},{"x":0.35,"y":0.725,"e":0.56},{"x":0.4,"y":0.725,"e":0.573},{"x":0.45,"y":0.725,"e":0.587},{"x":0.5,"y":0.725,"e":0.601},{"x":0.55,"y":0.725,"e":0.614},{"x":0.6,"y":0.725,"e":0.627},{"x":0.65,"y":0.725,"e":0.64},{"x":0.7,"y":0.725,"e":0.653},{"x":0.75,"y":0.725,"e":0.666},{"x":0.8,"y":0.725,"e":0.686},{"x":0.85,"y":0.725,"e":0.706},{"x":0.9,"y":0.725,"e":0.727},{"x":0.95,"y":0.725,"e":0.747},
{"x":0,"y":0.7375,"e":0.495},{"x":0.05,"y":0.7375,"e":0.507},{"x":0.1,"y":0.7375,"e":0.518},{"x":0.15,"y":0.7375,"e":0.53},{"x":0.2,"y":0.7375,"e":0.541},{"x":0.25,"y":0.7375,"e":0.553},{"x":0.3,"y":0.7375,"e":0.565},{"x":0.35,"y":0.7375,"e":0.578},{"x":0.4,"y":0.7375,"e":0.59},{"x":0.45,"y":0.7375,"e":0.603},{"x":0.5,"y":0.7375,"e":0.615},{"x":0.55,"y":0.7375,"e":0.629},{"x":0.6,"y":0.7375,"e":0.643},{"x":0.65,"y":0.7375,"e":0.656},{"x":0.7,"y":0.7375,"e":0.67},{"x":0.75,"y":0.7375,"e":0.684},{"x":0.8,"y":0.7375,"e":0.704},{"x":0.85,"y":0.7375,"e":0.723},{"x":0.9,"y":0.7375,"e":0.743},{"x":0.95,"y":0.7375,"e":0.763},
{"x":0,"y":0.75,"e":0.516},{"x":0.05,"y":0.75,"e":0.527},{"x":0.1,"y":0.75,"e":0.539},{"x":0.15,"y":0.75,"e":0.55},{"x":0.2,"y":0.75,"e":0.562},{"x":0.25,"y":0.75,"e":0.573},{"x":0.3,"y":0.75,"e":0.584},{"x":0.35,"y":0.75,"e":0.596},{"x":0.4,"y":0.75,"e":0.607},{"x":0.45,"y":0.75,"e":0.618},{"x":0.5,"y":0.75,"e":0.629},{"x":0.55,"y":0.75,"e":0.643},{"x":0.6,"y":0.75,"e":0.658},{"x":0.65,"y":0.75,"e":0.672},{"x":0.7,"y":0.75,"e":0.687},{"x":0.75,"y":0.75,"e":0.701},{"x":0.8,"y":0.75,"e":0.721},{"x":0.85,"y":0.75,"e":0.741},{"x":0.9,"y":0.75,"e":0.761},{"x":0.95,"y":0.75,"e":0.781},
{"x":0,"y":0.7625,"e":0.539},{"x":0.05,"y":0.7625,"e":0.55},{"x":0.1,"y":0.7625,"e":0.561},{"x":0.15,"y":0.7625,"e":0.571},{"x":0.2,"y":0.7625,"e":0.582},{"x":0.25,"y":0.7625,"e":0.593},{"x":0.3,"y":0.7625,"e":0.603},{"x":0.35,"y":0.7625,"e":0.613},{"x":0.4,"y":0.7625,"e":0.624},{"x":0.45,"y":0.7625,"e":0.634},{"x":0.5,"y":0.7625,"e":0.644},{"x":0.55,"y":0.7625,"e":0.659},{"x":0.6,"y":0.7625,"e":0.674},{"x":0.65,"y":0.7625,"e":0.689},{"x":0.7,"y":0.7625,"e":0.704},{"x":0.75,"y":0.7625,"e":0.719},{"x":0.8,"y":0.7625,"e":0.739},{"x":0.85,"y":0.7625,"e":0.759},{"x":0.9,"y":0.7625,"e":0.779},{"x":0.95,"y":0.7625,"e":0.799},
{"x":0,"y":0.775,"e":0.561},{"x":0.05,"y":0.775,"e":0.571},{"x":0.1,"y":0.775,"e":0.58},{"x":0.15,"y":0.775,"e":0.59},{"x":0.2,"y":0.775,"e":0.599},{"x":0.25,"y":0.775,"e":0.609},{"x":0.3,"y":0.775,"e":0.619},{"x":0.35,"y":0.775,"e":0.629},{"x":0.4,"y":0.775,"e":0.638},{"x":0.45,"y":0.775,"e":0.648},{"x":0.5,"y":0.775,"e":0.658},{"x":0.55,"y":0.775,"e":0.674},{"x":0.6,"y":0.775,"e":0.69},{"x":0.65,"y":0.775,"e":0.705},{"x":0.7,"y":0.775,"e":0.721},{"x":0.75,"y":0.775,"e":0.737},{"x":0.8,"y":0.775,"e":0.757},{"x":0.85,"y":0.775,"e":0.777},{"x":0.9,"y":0.775,"e":0.798},
{"x":0,"y":0.7875,"e":0.584},{"x":0.05,"y":0.7875,"e":0.592},{"x":0.1,"y":0.7875,"e":0.6},{"x":0.15,"y":0.7875,"e":0.609},{"x":0.2,"y":0.7875,"e":0.617},{"x":0.25,"y":0.7875,"e":0.625},{"x":0.3,"y":0.7875,"e":0.635},{"x":0.35,"y":0.7875,"e":0.646},{"x":0.4,"y":0.7875,"e":0.656},{"x":0.45,"y":0.7875,"e":0.667},{"x":0.5,"y":0.7875,"e":0.677},{"x":0.55,"y":0.7875,"e":0.693},{"x":0.6,"y":0.7875,"e":0.708},{"x":0.65,"y":0.7875,"e":0.724},{"x":0.7,"y":0.7875,"e":0.739},{"x":0.75,"y":0.7875,"e":0.755},{"x":0.8,"y":0.7875,"e":0.775},{"x":0.85,"y":0.7875,"e":0.795},{"x":0.9,"y":0.7875,"e":0.816},
{"x":0,"y":0.8,"e":0.602},{"x":0.05,"y":0.8,"e":0.61},{"x":0.1,"y":0.8,"e":0.617},{"x":0.15,"y":0.8,"e":0.625},{"x":0.2,"y":0.8,"e":0.633},{"x":0.25,"y":0.8,"e":0.64},{"x":0.3,"y":0.8,"e":0.651},{"x":0.35,"y":0.8,"e":0.663},{"x":0.4,"y":0.8,"e":0.674},{"x":0.45,"y":0.8,"e":0.685},{"x":0.5,"y":0.8,"e":0.696},{"x":0.55,"y":0.8,"e":0.711},{"x":0.6,"y":0.8,"e":0.726},{"x":0.65,"y":0.8,"e":0.741},{"x":0.7,"y":0.8,"e":0.756},{"x":0.75,"y":0.8,"e":0.771},{"x":0.8,"y":0.8,"e":0.791},{"x":0.85,"y":0.8,"e":0.811},{"x":0.9,"y":0.8,"e":0.83},
{"x":0,"y":0.8125,"e":0.619},{"x":0.05,"y":0.8125,"e":0.626},{"x":0.1,"y":0.8125,"e":0.633},{"x":0.15,"y":0.8125,"e":0.641},{"x":0.2,"y":0.8125,"e":0.648},{"x":0.25,"y":0.8125,"e":0.655},{"x":0.3,"y":0.8125,"e":0.667},{"x":0.35,"y":0.8125,"e":0.678},{"x":0.4,"y":0.8125,"e":0.69},{"x":0.45,"y":0.8125,"e":0.701},{"x":0.5,"y":0.8125,"e":0.713},{"x":0.55,"y":0.8125,"e":0.728},{"x":0.6,"y":0.8125,"e":0.742},{"x":0.65,"y":0.8125,"e":0.757},{"x":0.7,"y":0.8125,"e":0.771},{"x":0.75,"y":0.8125,"e":0.786},{"x":0.8,"y":0.8125,"e":0.804},{"x":0.85,"y":0.8125,"e":0.823},{"x":0.9,"y":0.8125,"e":0.841},
{"x":0,"y":0.825,"e":0.637},{"x":0.05,"y":0.825,"e":0.644},{"x":0.1,"y":0.825,"e":0.652},{"x":0.15,"y":0.825,"e":0.659},{"x":0.2,"y":0.825,"e":0.667},{"x":0.25,"y":0.825,"e":0.674},{"x":0.3,"y":0.825,"e":0.685},{"x":0.35,"y":0.825,"e":0.696},{"x":0.4,"y":0.825,"e":0.708},{"x":0.45,"y":0.825,"e":0.719},{"x":0.5,"y":0.825,"e":0.73},{"x":0.55,"y":0.825,"e":0.744},{"x":0.6,"y":0.825,"e":0.758},{"x":0.65,"y":0.825,"e":0.773},{"x":0.7,"y":0.825,"e":0.787},{"x":0.75,"y":0.825,"e":0.801},{"x":0.8,"y":0.825,"e":0.818},{"x":0.85,"y":0.825,"e":0.835},
{"x":0,"y":0.8375,"e":0.654},{"x":0.05,"y":0.8375,"e":0.662},{"x":0.1,"y":0.8375,"e":0.671},{"x":0.15,"y":0.8375,"e":0.679},{"x":0.2,"y":0.8375,"e":0.687},{"x":0.25,"y":0.8375,"e":0.696},{"x":0.3,"y":0.8375,"e":0.706},{"x":0.35,"y":0.8375,"e":0.717},{"x":0.4,"y":0.8375,"e":0.727},{"x":0.45,"y":0.8375,"e":0.737},{"x":0.5,"y":0.8375,"e":0.747},{"x":0.55,"y":0.8375,"e":0.761},{"x":0.6,"y":0.8375,"e":0.775},{"x":0.65,"y":0.8375,"e":0.788},{"x":0.7,"y":0.8375,"e":0.802},{"x":0.75,"y":0.8375,"e":0.816},{"x":0.8,"y":0.8375,"e":0.832},{"x":0.85,"y":0.8375,"e":0.848},
{"x":0,"y":0.85,"e":0.676},{"x":0.05,"y":0.85,"e":0.684},{"x":0.1,"y":0.85,"e":0.692},{"x":0.15,"y":0.85,"e":0.701},{"x":0.2,"y":0.85,"e":0.709},{"x":0.25,"y":0.85,"e":0.717},{"x":0.3,"y":0.85,"e":0.726},{"x":0.35,"y":0.85,"e":0.736},{"x":0.4,"y":0.85,"e":0.746},{"x":0.45,"y":0.85,"e":0.755},{"x":0.5,"y":0.85,"e":0.765},{"x":0.55,"y":0.85,"e":0.778},{"x":0.6,"y":0.85,"e":0.791},{"x":0.65,"y":0.85,"e":0.804},{"x":0.7,"y":0.85,"e":0.817},{"x":0.75,"y":0.85,"e":0.83},{"x":0.8,"y":0.85,"e":0.845},{"x":0.85,"y":0.85,"e":0.859},
{"x":0,"y":0.8625,"e":0.701},{"x":0.05,"y":0.8625,"e":0.708},{"x":0.1,"y":0.8625,"e":0.716},{"x":0.15,"y":0.8625,"e":0.723},{"x":0.2,"y":0.8625,"e":0.73},{"x":0.25,"y":0.8625,"e":0.738},{"x":0.3,"y":0.8625,"e":0.747},{"x":0.35,"y":0.8625,"e":0.757},{"x":0.4,"y":0.8625,"e":0.766},{"x":0.45,"y":0.8625,"e":0.776},{"x":0.5,"y":0.8625,"e":0.785},{"x":0.55,"y":0.8625,"e":0.797},{"x":0.6,"y":0.8625,"e":0.809},{"x":0.65,"y":0.8625,"e":0.821},{"x":0.7,"y":0.8625,"e":0.833},{"x":0.75,"y":0.8625,"e":0.845},{"x":0.8,"y":0.8625,"e":0.859},{"x":0.85,"y":0.8625,"e":0.872},
{"x":0,"y":0.875,"e":0.726},{"x":0.05,"y":0.875,"e":0.732},{"x":0.1,"y":0.875,"e":0.739},{"x":0.15,"y":0.875,"e":0.746},{"x":0.2,"y":0.875,"e":0.752},{"x":0.25,"y":0.875,"e":0.759},{"x":0.3,"y":0.875,"e":0.768},{"x":0.35,"y":0.875,"e":0.778},{"x":0.4,"y":0.875,"e":0.787},{"x":0.45,"y":0.875,"e":0.797},{"x":0.5,"y":0.875,"e":0.806},{"x":0.55,"y":0.875,"e":0.817},{"x":0.6,"y":0.875,"e":0.828},{"x":0.65,"y":0.875,"e":0.838},{"x":0.7,"y":0.875,"e":0.849},{"x":0.75,"y":0.875,"e":0.86},{"x":0.8,"y":0.875,"e":0.871},
{"x":0,"y":0.8875,"e":0.75},{"x":0.05,"y":0.8875,"e":0.757},{"x":0.1,"y":0.8875,"e":0.764},{"x":0.15,"y":0.8875,"e":0.771},{"x":0.2,"y":0.8875,"e":0.777},{"x":0.25,"y":0.8875,"e":0.784},{"x":0.3,"y":0.8875,"e":0.793},{"x":0.35,"y":0.8875,"e":0.801},{"x":0.4,"y":0.8875,"e":0.81},{"x":0.45,"y":0.8875,"e":0.818},{"x":0.5,"y":0.8875,"e":0.827},{"x":0.55,"y":0.8875,"e":0.836},{"x":0.6,"y":0.8875,"e":0.846},{"x":0.65,"y":0.8875,"e":0.856},{"x":0.7,"y":0.8875,"e":0.865},{"x":0.75,"y":0.8875,"e":0.875},{"x":0.8,"y":0.8875,"e":0.884},
{"x":0,"y":0.9,"e":0.778},{"x":0.05,"y":0.9,"e":0.784},{"x":0.1,"y":0.9,"e":0.791},{"x":0.15,"y":0.9,"e":0.797},{"x":0.2,"y":0.9,"e":0.804},{"x":0.25,"y":0.9,"e":0.81},{"x":0.3,"y":0.9,"e":0.818},{"x":0.35,"y":0.9,"e":0.825},{"x":0.4,"y":0.9,"e":0.833},{"x":0.45,"y":0.9,"e":0.84},{"x":0.5,"y":0.9,"e":0.848},{"x":0.55,"y":0.9,"e":0.856},{"x":0.6,"y":0.9,"e":0.864},{"x":0.65,"y":0.9,"e":0.872},{"x":0.7,"y":0.9,"e":0.881},{"x":0.75,"y":0.9,"e":0.889},{"x":0.8,"y":0.9,"e":0.896},
{"x":0,"y":0.9125,"e":0.808},{"x":0.05,"y":0.9125,"e":0.814},{"x":0.1,"y":0.9125,"e":0.82},{"x":0.15,"y":0.9125,"e":0.825},{"x":0.2,"y":0.9125,"e":0.831},{"x":0.25,"y":0.9125,"e":0.837},{"x":0.3,"y":0.9125,"e":0.844},{"x":0.35,"y":0.9125,"e":0.851},{"x":0.4,"y":0.9125,"e":0.858},{"x":0.45,"y":0.9125,"e":0.864},{"x":0.5,"y":0.9125,"e":0.871},{"x":0.55,"y":0.9125,"e":0.878},{"x":0.6,"y":0.9125,"e":0.884},{"x":0.65,"y":0.9125,"e":0.89},{"x":0.7,"y":0.9125,"e":0.897},{"x":0.75,"y":0.9125,"e":0.903},{"x":0.8,"y":0.9125,"e":0.91},
{"x":0,"y":0.925,"e":0.838},{"x":0.05,"y":0.925,"e":0.843},{"x":0.1,"y":0.925,"e":0.848},{"x":0.15,"y":0.925,"e":0.853},{"x":0.2,"y":0.925,"e":0.859},{"x":0.25,"y":0.925,"e":0.864},{"x":0.3,"y":0.925,"e":0.869},{"x":0.35,"y":0.925,"e":0.875},{"x":0.4,"y":0.925,"e":0.88},{"x":0.45,"y":0.925,"e":0.886},{"x":0.5,"y":0.925,"e":0.891},{"x":0.55,"y":0.925,"e":0.896},{"x":0.6,"y":0.925,"e":0.902},{"x":0.65,"y":0.925,"e":0.907},{"x":0.7,"y":0.925,"e":0.912},{"x":0.75,"y":0.925,"e":0.917},
{"x":0,"y":0.9375,"e":0.867},{"x":0.05,"y":0.9375,"e":0.871},{"x":0.1,"y":0.9375,"e":0.875},{"x":0.15,"y":0.9375,"e":0.879},{"x":0.2,"y":0.9375,"e":0.884},{"x":0.25,"y":0.9375,"e":0.888},{"x":0.3,"y":0.9375,"e":0.892},{"x":0.35,"y":0.9375,"e":0.896},{"x":0.4,"y":0.9375,"e":0.9},{"x":0.45,"y":0.9375,"e":0.904},{"x":0.5,"y":0.9375,"e":0.908},{"x":0.55,"y":0.9375,"e":0.913},{"x":0.6,"y":0.9375,"e":0.918},{"x":0.65,"y":0.9375,"e":0.922},{"x":0.7,"y":0.9375,"e":0.927},{"x":0.75,"y":0.9375,"e":0.932},
{"x":0,"y":0.95,"e":0.893},{"x":0.05,"y":0.95,"e":0.896},{"x":0.1,"y":0.95,"e":0.899},{"x":0.15,"y":0.95,"e":0.902},{"x":0.2,"y":0.95,"e":0.905},{"x":0.25,"y":0.95,"e":0.908},{"x":0.3,"y":0.95,"e":0.912},{"x":0.35,"y":0.95,"e":0.915},{"x":0.4,"y":0.95,"e":0.919},{"x":0.45,"y":0.95,"e":0.922},{"x":0.5,"y":0.95,"e":0.926},{"x":0.55,"y":0.95,"e":0.93},{"x":0.6,"y":0.95,"e":0.934},{"x":0.65,"y":0.95,"e":0.938},{"x":0.7,"y":0.95,"e":0.942},{"x":0.75,"y":0.95,"e":0.946},
{"x":0,"y":0.9625,"e":0.915},{"x":0.05,"y":0.9625,"e":0.918},{"x":0.1,"y":0.9625,"e":0.92},{"x":0.15,"y":0.9625,"e":0.923},{"x":0.2,"y":0.9625,"e":0.925},{"x":0.25,"y":0.9625,"e":0.928},{"x":0.3,"y":0.9625,"e":0.931},{"x":0.35,"y":0.9625,"e":0.934},{"x":0.4,"y":0.9625,"e":0.937},{"x":0.45,"y":0.9625,"e":0.94},{"x":0.5,"y":0.9625,"e":0.943},{"x":0.55,"y":0.9625,"e":0.946},{"x":0.6,"y":0.9625,"e":0.95},{"x":0.65,"y":0.9625,"e":0.953},{"x":0.7,"y":0.9625,"e":0.957},{"x":0.75,"y":0.9625,"e":0.96},
{"x":0,"y":0.975,"e":0.937},{"x":0.05,"y":0.975,"e":0.939},{"x":0.1,"y":0.975,"e":0.941},{"x":0.15,"y":0.975,"e":0.944},{"x":0.2,"y":0.975,"e":0.946},{"x":0.25,"y":0.975,"e":0.948},{"x":0.3,"y":0.975,"e":0.951},{"x":0.35,"y":0.975,"e":0.953},{"x":0.4,"y":0.975,"e":0.956},{"x":0.45,"y":0.975,"e":0.958},{"x":0.5,"y":0.975,"e":0.961},{"x":0.55,"y":0.975,"e":0.963},{"x":0.6,"y":0.975,"e":0.965},{"x":0.65,"y":0.975,"e":0.967},{"x":0.7,"y":0.975,"e":0.969},
{"x":0,"y":0.9875,"e":0.96},{"x":0.05,"y":0.9875,"e":0.962},{"x":0.1,"y":0.9875,"e":0.963},{"x":0.15,"y":0.9875,"e":0.965},{"x":0.2,"y":0.9875,"e":0.966},{"x":0.25,"y":0.9875,"e":0.968},{"x":0.3,"y":0.9875,"e":0.969},{"x":0.35,"y":0.9875,"e":0.97},{"x":0.4,"y":0.9875,"e":0.971},{"x":0.45,"y":0.9875,"e":0.972},{"x":0.5,"y":0.9875,"e":0.973},{"x":0.55,"y":0.9875,"e":0.974},{"x":0.6,"y":0.9875,"e":0.974},{"x":0.65,"y":0.9875,"e":0.975},{"x":0.7,"y":0.9875,"e":0.976},
{"x":0,"y":1,"e":0.974},{"x":0.05,"y":1,"e":0.974},{"x":0.1,"y":1,"e":0.975},{"x":0.15,"y":1,"e":0.975},{"x":0.2,"y":1,"e":0.976},{"x":0.25,"y":1,"e":0.976},{"x":0.3,"y":1,"e":0.977},{"x":0.35,"y":1,"e":0.977},{"x":0.4,"y":1,"e":0.978},{"x":0.45,"y":1,"e":0.978},{"x":0.5,"y":1,"e":0.979},{"x":0.55,"y":1,"e":0.979},{"x":0.6,"y":1,"e":0.98},{"x":0.65,"y":1,"e":0.98},{"x":0.7,"y":1,"e":0.981},
{"x":0,"y":1.0125,"e":0.981},{"x":0.05,"y":1.0125,"e":0.982},{"x":0.1,"y":1.0125,"e":0.982},{"x":0.15,"y":1.0125,"e":0.983},{"x":0.2,"y":1.0125,"e":0.983},{"x":0.25,"y":1.0125,"e":0.984},{"x":0.3,"y":1.0125,"e":0.984},{"x":0.35,"y":1.0125,"e":0.985},{"x":0.4,"y":1.0125,"e":0.985},{"x":0.45,"y":1.0125,"e":0.986},{"x":0.5,"y":1.0125,"e":0.986},{"x":0.55,"y":1.0125,"e":0.986},{"x":0.6,"y":1.0125,"e":0.987},{"x":0.65,"y":1.0125,"e":0.987},{"x":0.7,"y":1.0125,"e":0.988}
],
"white":[{"x":0.746,"lo":0.976,"hi":1.024},{"x":1.0,"lo":0.726,"hi":1.024}],
"blocks":[
{"b":"A","x":0.767,"lo":0.955,"hi":0.955,"e":0.86},{"b":"A","x":0.806,"lo":0.917,"hi":0.955,"e":0.86},
{"b":"B","x":0.806,"lo":0.911,"hi":0.911,"e":0.82},{"b":"B","x":0.917,"lo":0.808,"hi":0.911,"e":0.82},
{"b":"C","x":0.917,"lo":0.804,"hi":0.804,"e":0.49},{"b":"C","x":1.0,"lo":0.726,"hi":0.804,"e":0.49}
]
},
"layer":[
{"data":{"name":"coarse"},
 "mark":{"type":"rect","clip":true,"binSpacing":0},
 "encoding":{
  "x":{"field":"x","type":"quantitative","bin":{"binned":true,"step":0.102},"scale":{"domain":[0,1],"nice":false,"zero":false},
       "axis":{"values":[0,0.2,0.4,0.6,0.8,1],"format":".1f","title":"Vaccination\u00a0 coverage\u00a0 x","labelPadding":9,"titlePadding":15,"labelFlush":false,"titleX":234}},
  "y":{"field":"y","type":"quantitative","bin":{"binned":true,"step":0.027},"scale":{"domain":[-0.024,1.024],"nice":false,"zero":false},
       "axis":{"values":[0,0.2,0.4,0.6,0.8,1],"format":".1f","title":"Efficiency\u00a0 of\u00a0 vaccination\u00a0 η","labelPadding":9,"titlePadding":13,"labelFlush":false,"titleY":234}},
  "color":{"field":"e","type":"quantitative",
   "scale":{"domain":[0,0.06,0.12,0.2,0.27,0.33,0.4,0.49,0.61,0.68,0.75,0.81,0.89,0.96,1],
            "range":["#393a9a","#383f9f","#2f52a7","#457fbf","#4fb3df","#5fcbd3","#72d6b4","#88d889","#bfd946","#e5dc04","#f5b91b","#f19222","#e8642a","#d7371c","#d2281a"],
            "interpolate":"rgb"},
   "legend":{"orient":"none","legendX":58,"legendY":582,"direction":"horizontal","gradientLength":359,"gradientThickness":22,
     "gradientStrokeColor":"#222","gradientStrokeWidth":1.5,"titleOrient":"bottom","titleAnchor":"middle","titleLimit":1000,
     "title":"Effectiveness\u00a0 of\u00a0 vaccine\u00a0 e","titleFont":"Liberation Serif","titleFontSize":31,"titleFontWeight":"normal","titleColor":"#222","titlePadding":-3,
     "labelFont":"Liberation Serif","labelFontSize":27,"labelColor":"#222","labelOffset":4,"labelAlign":"center","values":[0,1],"format":"d","padding":0,
     "encode":{"labels":{"update":{"align":{"value":"center"}}}}}}
 }},
{"data":{"name":"fine"},
 "mark":{"type":"rect","clip":true,"binSpacing":0},
 "encoding":{
  "x":{"field":"x","type":"quantitative","bin":{"binned":true,"step":0.0515},"title":"Vaccination\u00a0 coverage\u00a0 x"},
  "y":{"field":"y","type":"quantitative","bin":{"binned":true,"step":0.014},"title":"Efficiency\u00a0 of\u00a0 vaccination\u00a0 η"},
  "color":{"field":"e","type":"quantitative"}
 }},
{"data":{"name":"white"},
 "mark":{"type":"area","color":"white","clip":true},
 "encoding":{
  "x":{"field":"x","type":"quantitative","title":"Vaccination\u00a0 coverage\u00a0 x"},
  "y":{"field":"lo","type":"quantitative","title":"Efficiency\u00a0 of\u00a0 vaccination\u00a0 η"},
  "y2":{"field":"hi"}
 }},
{"data":{"name":"blocks"},
 "mark":{"type":"area","clip":true},
 "encoding":{
  "x":{"field":"x","type":"quantitative","title":"Vaccination\u00a0 coverage\u00a0 x"},
  "y":{"field":"lo","type":"quantitative","title":"Efficiency\u00a0 of\u00a0 vaccination\u00a0 η"},
  "y2":{"field":"hi"},
  "color":{"field":"e","type":"quantitative"},
  "detail":{"field":"b"}
 }}
]
}
